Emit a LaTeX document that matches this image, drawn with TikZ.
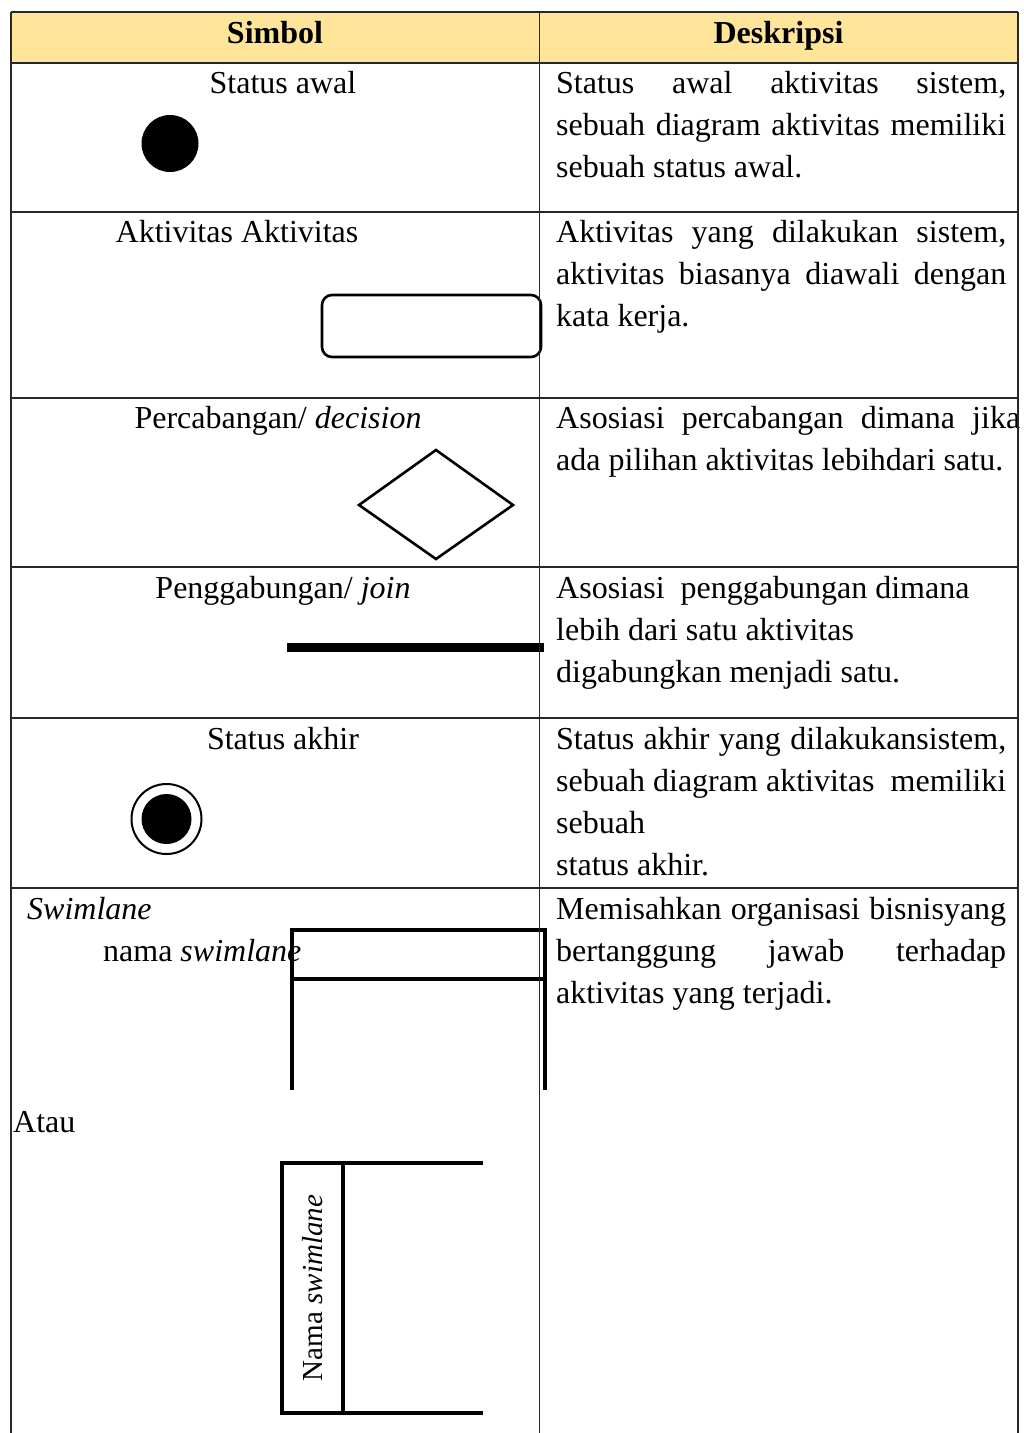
\documentclass[tikz,border=0pt]{standalone}
\usepackage{fontspec}
\setmainfont{Liberation Serif}
\definecolor{headfill}{RGB}{255,229,153}
\definecolor{gridline}{RGB}{40,40,40}
\newcommand{\jline}[2]{\makebox[#1][s]{#2}}
\begin{document}
\begin{tikzpicture}[x=1pt,y=-1pt,
  txt/.style={inner sep=0pt,font=\fontsize{32pt}{42pt}\selectfont},
  desc/.style={txt,anchor=base west},
  sym/.style={txt,anchor=base},
  head/.style={txt,anchor=base,font=\fontsize{32pt}{42pt}\selectfont\bfseries},
  grid/.style={draw=gridline,line width=1.2pt},
  shapeline/.style={draw=black,line width=2.6pt},
  laneline/.style={draw=black,line width=3.2pt}]
\useasboundingbox (0,0) rectangle (1024,1433);
\fill[white] (0,0) rectangle (1024,1433);

% header band
\fill[headfill] (11,12) rectangle (1018,63);
\node[head] (h1) at (275,43) {Simbol};
\node[head] (h2) at (778.5,43) {Deskripsi};

% row 1: initial state
\node[sym] (s1) at (283,93) {Status awal};
\node[circle,fill=black,inner sep=0pt,minimum size=57pt] (start) at (170,143.5) {};
\node[desc] (d1a) at (556,93) {\jline{450pt}{Status awal aktivitas sistem,}};
\node[desc] (d1b) at (556,135) {\jline{450pt}{sebuah diagram aktivitas memiliki}};
\node[desc] (d1c) at (556,177) {sebuah status awal.};

% row 2: activity
\node[sym] (s2) at (237,242) {Aktivitas Aktivitas};
\node[shapeline,rounded corners=10pt,minimum width=219pt,minimum height=62pt,inner sep=0pt] (act) at (431.5,326) {};
\node[desc] (d2a) at (556,242) {\jline{450pt}{Aktivitas yang dilakukan sistem,}};
\node[desc] (d2b) at (556,284) {\jline{450pt}{aktivitas biasanya diawali dengan}};
\node[desc] (d2c) at (556,326) {kata kerja.};

% row 3: decision
\node[sym] (s3) at (278,428) {Percabangan/ \textit{decision}};
\coordinate (dl) at (359,505);
\coordinate (dt) at (436,450);
\coordinate (dr) at (513,505);
\coordinate (db) at (436,559);
\draw[shapeline,line join=miter] (dl) -- (dt) -- (dr) -- (db) -- cycle;
\node[desc] (d3a) at (556,428) {\jline{464pt}{Asosiasi percabangan dimana jika}};
\node[desc] (d3b) at (556,470) {ada pilihan aktivitas lebihdari satu.};

% row 4: join bar
\node[sym] (s4) at (283,598) {Penggabungan/ \textit{join}};
\node[fill=black,inner sep=0pt,minimum width=257pt,minimum height=9pt] (bar) at (415.5,647.5) {};
\node[desc] (d4a) at (556,598) {Asosiasi\ \ penggabungan dimana};
\node[desc] (d4b) at (556,640) {lebih dari satu aktivitas};
\node[desc] (d4c) at (556,682) {digabungkan menjadi satu.};

% row 5: final state
\node[sym] (s5) at (283,749) {Status akhir};
\node[circle,draw=black,line width=2pt,inner sep=0pt,minimum size=70pt] (endo) at (166.5,819) {};
\node[circle,fill=black,inner sep=0pt,minimum size=50pt] (endi) at (166.5,819) {};
\node[desc] (d5a) at (556,749) {\jline{450pt}{Status akhir yang dilakukansistem,}};
\node[desc] (d5b) at (556,791) {\jline{450pt}{sebuah diagram aktivitas\ \ memiliki}};
\node[desc] (d5c) at (556,833) {sebuah};
\node[desc] (d5d) at (556,875) {status akhir.};

% row 6: swimlanes
\node[desc] (s6) at (27,919) {\textit{Swimlane}};
\node[desc] (s6n) at (103,961) {nama \textit{swimlane}};
\coordinate (la) at (292,1090);
\coordinate (lb) at (292,930);
\coordinate (lc) at (545,930);
\coordinate (ld) at (545,1090);
\coordinate (le) at (292,979);
\coordinate (lf) at (545,979);
\draw[laneline] (la) -- (lb) -- (lc) -- (ld);
\draw[laneline] (le) -- (lf);
\node[desc] (atau) at (13,1132) {Atau};
\coordinate (ma) at (483,1163);
\coordinate (mb) at (282,1163);
\coordinate (mc) at (282,1413);
\coordinate (md) at (483,1413);
\coordinate (me) at (343,1163);
\coordinate (mf) at (343,1413);
\draw[laneline,line join=miter] (ma) -- (mb) -- (mc) -- (md);
\draw[laneline] (me) -- (mf);
\node[inner sep=0pt,rotate=90,font=\fontsize{29pt}{36pt}\selectfont] (vlabel) at (313,1288) {Nama \textit{swimlane}};
\node[desc] (d6a) at (556,919) {\jline{450pt}{Memisahkan organisasi bisnisyang}};
\node[desc] (d6b) at (556,961) {\jline{450pt}{bertanggung jawab terhadap}};
\node[desc] (d6c) at (556,1003) {aktivitas yang terjadi.};

% table rules
\coordinate (tl) at (11,12);
\coordinate (tr) at (1018,12);
\draw[grid] (tl) -- (tr);
\foreach \yy in {63,212,398,567,718,888}
  \draw[grid] (11,\yy) -- (1018,\yy);
\foreach \xx in {11,539.5,1018}
  \draw[grid] (\xx,12) -- (\xx,1433);
\end{tikzpicture}
\end{document}
